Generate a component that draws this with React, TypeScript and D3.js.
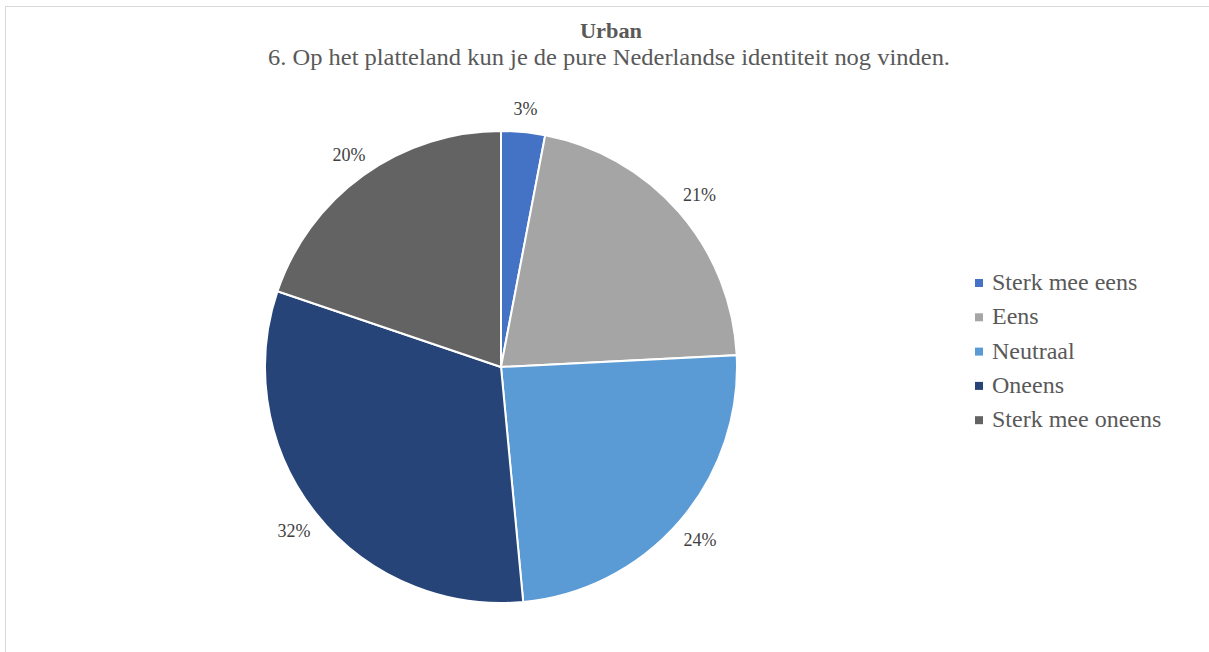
import React from "react";
import * as d3 from "d3";

const categories = ["Sterk mee eens", "Eens", "Neutraal", "Oneens", "Sterk mee oneens"];
const values = [3.0, 21.2, 24.3, 31.7, 19.8];
const labels = ["3%", "21%", "24%", "32%", "20%"];
const colors = ["#4472C4", "#A5A5A5", "#5B9BD5", "#264478", "#636363"];

const W = 1209;
const H = 652;
const FONT = "'Liberation Serif', 'Times New Roman', serif";

export default function App() {
  const cx = 501, cy = 367, R = 236;
  const pie = d3.pie<number>().sort(null).value((d) => d);
  const arcs = pie(values);
  const arc = d3.arc<d3.PieArcDatum<number>>().innerRadius(0).outerRadius(R);

  return (
    <svg width={W} height={H} style={{ position: "absolute", left: 0, top: 0 }}>
      <rect x={0} y={0} width={W} height={H} fill="#fff" />
      <rect x={5.5} y={6.5} width={W + 10} height={H + 10} fill="none" stroke="#D9D9D9" strokeWidth={1} />
      <text x={611} y={38} textAnchor="middle" fontFamily={FONT} fontSize={22} fontWeight="bold" fill="#595959"
        textLength={62} lengthAdjust="spacingAndGlyphs">Urban</text>
      <text x={609} y={65} textAnchor="middle" fontFamily={FONT} fontSize={23} fill="#595959"
        textLength={682} lengthAdjust="spacingAndGlyphs">
        6. Op het platteland kun je de pure Nederlandse identiteit nog vinden.
      </text>
      <g transform={`translate(${cx},${cy})`}>
        {arcs.map((a, i) => (
          <path key={i} d={arc(a) || ""} fill={colors[i]} stroke="#fff" strokeWidth={2} />
        ))}
        {arcs.map((a, i) => {
          const mid = (a.startAngle + a.endAngle) / 2;
          const s = Math.sin(mid), c = Math.cos(mid);
          const hw = labels[i].length * 5.3, hh = 8;
          const ext = Math.min(hw / Math.max(Math.abs(s), 1e-6), hh / Math.max(Math.abs(c), 1e-6));
          const r = R + 15 + ext;
          const x = s * r, y = -c * r;
          return (
            <text key={i} x={x} y={y} dy="0.35em" textAnchor="middle" fontFamily={FONT} fontSize={18} fill="#404040">
              {labels[i]}
            </text>
          );
        })}
      </g>
      <g>
        {categories.map((cat, i) => (
          <g key={cat} transform={`translate(975,${283 + i * 34.3})`}>
            <rect x={0} y={-4} width={8} height={8} fill={colors[i]} />
            <text x={17} y={7} fontFamily={FONT} fontSize={24} fill="#595959">{cat}</text>
          </g>
        ))}
      </g>
    </svg>
  );
}
